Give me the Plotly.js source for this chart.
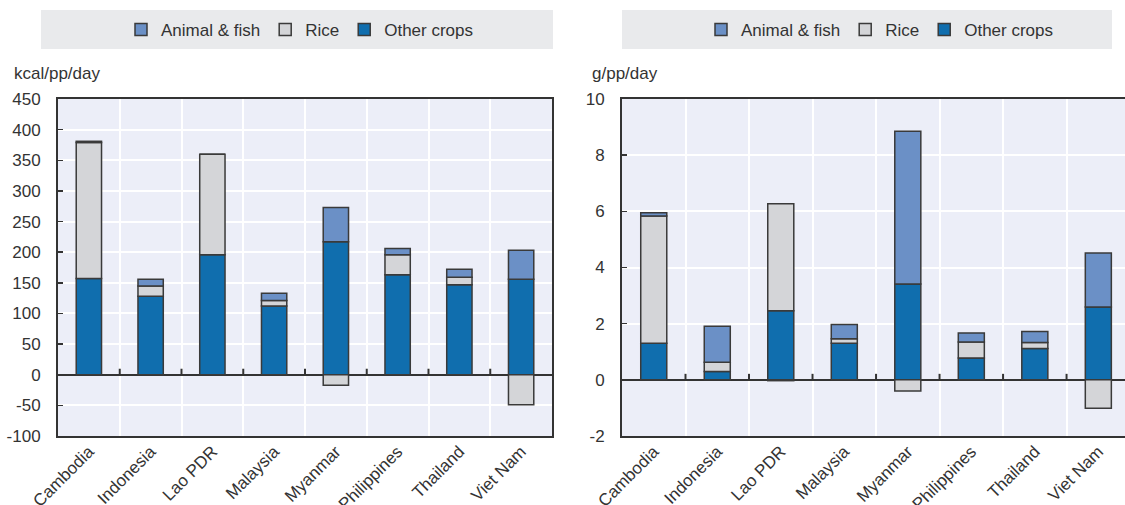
<!DOCTYPE html>
<html>
<head>
<meta charset="utf-8">
<script src="https://cdn.plot.ly/plotly-3.0.1.min.js"></script>
<style>html,body{margin:0;padding:0;background:#fff;}#chart{width:1125px;height:505px;}</style>
</head>
<body>
<div id="chart"></div>
<script>
// ---- Data ----
const categories = ['Cambodia','Indonesia','Lao PDR','Malaysia','Myanmar','Philippines','Thailand','Viet Nam'];
const seriesNames = ['Other crops','Rice','Animal & fish'];
// Energy (kcal/pp/day)
const otherKcal  = [157, 128, 196, 112, 217, 163, 147, 156];
const riceKcal   = [222,  17, 164,   9, -17,  33,  12, -49];
const animalKcal = [  2,  11,   0,  12,  56,  10,  13,  47];
// Protein (g/pp/day)
const otherG  = [1.30, 0.30, 2.46, 1.30, 3.41, 0.78, 1.12, 2.59];
const riceG   = [4.53, 0.33, 3.81, 0.16, -0.40, 0.57, 0.21, -1.01];
const animalG = [0.12, 1.28, -0.03, 0.51, 5.44, 0.32, 0.39, 1.93];
const leftTicks = [-100,-50,0,50,100,150,200,250,300,350,400,450];
const rightTicks = [-2,0,2,4,6,8,10];

// ---- Style ----
const W = 1125, H = 505;
const colors = {'Other crops':'#106eae','Rice':'#d4d5d8','Animal & fish':'#6b90c6'};
const FONT = '"Liberation Sans", Arial, sans-serif';
const TXT = '#333333';

function bar(name, y, xa, ya, lg){
  return {type:'bar', name:name, x:categories, y:y, xaxis:xa, yaxis:ya, legend:lg,
    marker:{color:colors[name], line:{color:'#3a3a3a', width:1.5}},
    hoverinfo:'x+y+name'};
}
const traces = [
  bar('Other crops', otherKcal, 'x', 'y', 'legend'),
  bar('Rice', riceKcal, 'x', 'y', 'legend'),
  bar('Animal & fish', animalKcal, 'x', 'y', 'legend'),
  bar('Other crops', otherG, 'x2', 'y2', 'legend2'),
  bar('Rice', riceG, 'x2', 'y2', 'legend2'),
  bar('Animal & fish', animalG, 'x2', 'y2', 'legend2')
];

const px = v => v / W;
const py = v => 1 - v / H;

const yDom = [py(436), py(99)];
function xax(dom, range, mirror){
  return {domain:dom, type:'category', categoryorder:'array', categoryarray:categories,
    range:range, tickson:'boundaries', ticks:'', showgrid:true, gridcolor:'#ffffff', gridwidth:2,
    showline:true, linecolor:'#333333', linewidth:2, mirror:mirror,
    ticklabelstandoff:-3,
    tickangle:-45, tickfont:{family:FONT, size:17, color:TXT}, automargin:false, fixedrange:true};
}
function yax(dom, range, tv, anchor, mirror){
  return {domain:dom, range:range, tickvals:tv, ticktext:tv.map(String), anchor:anchor,
    showgrid:true, gridcolor:'#ffffff', gridwidth:2,
    zeroline:true, zerolinecolor:'#333333', zerolinewidth:2,
    showline:true, linecolor:'#333333', linewidth:2, mirror:mirror,
    ticks:'inside', ticklen:5, tickwidth:1.5, tickcolor:'#333333',
    ticklabelstandoff:12,
    tickfont:{family:FONT, size:17, color:TXT}, automargin:false, fixedrange:true};
}

const shapes = [
  {type:'rect', xref:'paper', yref:'paper', x0:px(41), x1:px(553), y0:py(49), y1:py(10), fillcolor:'#e9eaec', line:{width:0}, layer:'below'},
  {type:'rect', xref:'paper', yref:'paper', x0:px(622), x1:px(1112), y0:py(49), y1:py(10), fillcolor:'#e9eaec', line:{width:0}, layer:'below'}
];
// small ticks on the zero line at category boundaries
for (let i = 0; i < categories.length - 1; i++){
  [['x','y'],['x2','y2']].forEach(([xa,ya]) => {
    shapes.push({type:'line', xref:xa, yref:ya, x0:i+0.5, x1:i+0.5, ysizemode:'pixel', yanchor:0, y0:0, y1:6,
      line:{color:'#333333', width:2}});
  });
}

const legendBase = {orientation:'h', traceorder:'reversed', bgcolor:'rgba(0,0,0,0)',
  font:{family:FONT, size:17, color:TXT}, xanchor:'center', yanchor:'middle', itemclick:false, itemdoubleclick:false};

const layout = {
  width:W, height:H, margin:{l:0,r:0,t:0,b:0}, paper_bgcolor:'#ffffff', plot_bgcolor:'#eceef8',
  barmode:'relative', bargap:0.59, showlegend:true,
  font:{family:FONT, color:TXT},
  xaxis: xax([px(58), px(552)], [-0.5, 7.5], true),
  yaxis: yax(yDom, [-100, 450], leftTicks, 'x', true),
  xaxis2: Object.assign(xax([px(622), 1], [-0.5, 7.42], true), {anchor:'y2'}),
  yaxis2: yax(yDom, [-2, 10], rightTicks, 'x2', false),
  legend: Object.assign({}, legendBase, {x:px(300), y:py(30)}),
  legend2: Object.assign({}, legendBase, {x:px(880), y:py(30)}),
  shapes: shapes,
  annotations: [
    {text:'kcal/pp/day', xref:'paper', yref:'paper', x:px(12), y:py(73), xanchor:'left', yanchor:'middle', showarrow:false, font:{family:FONT, size:17, color:TXT}},
    {text:'g/pp/day', xref:'paper', yref:'paper', x:px(590), y:py(73), xanchor:'left', yanchor:'middle', showarrow:false, font:{family:FONT, size:17, color:TXT}}
  ]
};

Plotly.newPlot('chart', traces, layout, {displayModeBar:false, staticPlot:true});
</script>
</body>
</html>
